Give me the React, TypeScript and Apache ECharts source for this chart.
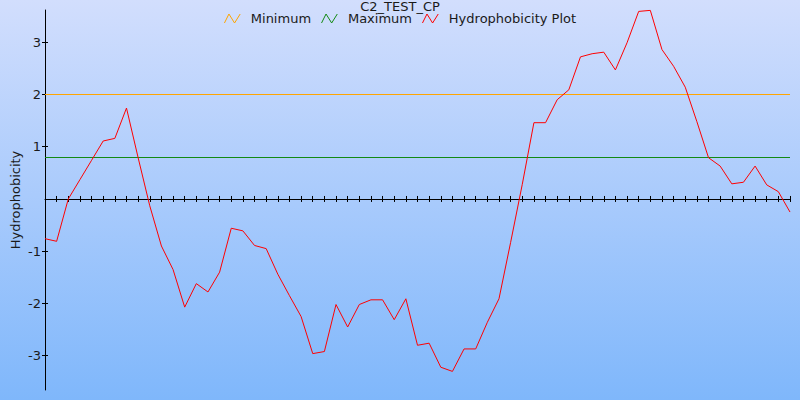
import React, { useEffect, useRef } from 'react';
import * as echarts from 'echarts';

// Residue window positions (x categories)
const positions = [
  1, 2, 3, 4, 5, 6, 7, 8, 9, 10, 11, 12, 13, 14, 15, 16, 17, 18, 19, 20,
  21, 22, 23, 24, 25, 26, 27, 28, 29, 30, 31, 32, 33, 34, 35, 36, 37, 38, 39, 40,
  41, 42, 43, 44, 45, 46, 47, 48, 49, 50, 51, 52, 53, 54, 55, 56, 57, 58, 59, 60,
  61, 62, 63, 64, 65,
];

// Hydrophobicity values
const hydrophobicity = [
  -0.76, -0.81, 0.0, 0.37, 0.74, 1.11, 1.16, 1.74, 0.79, -0.13,
  -0.9, -1.35, -2.07, -1.62, -1.78, -1.4, -0.56, -0.61, -0.89, -0.95,
  -1.44, -1.85, -2.25, -2.96, -2.92, -2.02, -2.45, -2.02, -1.93, -1.93,
  -2.31, -1.91, -2.8, -2.76, -3.22, -3.3, -2.87, -2.87, -2.36, -1.91,
  -0.83, 0.28, 1.46, 1.46, 1.9, 2.09, 2.72, 2.78, 2.81, 2.47,
  2.99, 3.59, 3.61, 2.86, 2.54, 2.14, 1.48, 0.79, 0.63, 0.29,
  0.32, 0.63, 0.27, 0.14, -0.25,
];

const minimumLevel = 2.0;
const maximumLevel = 0.8;

const yTickValues = [-3, -2, -1, 1, 2, 3];
const yMin = -3.656;
const yMax = 3.617;

const COLORS = {
  minimum: '#ffa500',
  maximum: '#138a13',
  plot: '#ff0000',
  text: '#1a1a1a',
  axis: '#000000',
};

const legendIcon = 'path://M0,9L4,1L9,9L14,1';

export default function App() {
  const ref = useRef<HTMLDivElement>(null);

  useEffect(() => {
    if (!ref.current) return;
    const chart = echarts.init(ref.current, null, { renderer: 'svg' });
    const font = 'DejaVu Sans';
    const fs = 13;
    chart.setOption({
      animation: false,
      backgroundColor: new echarts.graphic.LinearGradient(0, 0, 0, 1, [
        { offset: 0, color: '#d2defd' },
        { offset: 1, color: '#7fb7fb' },
      ]),
      textStyle: { fontFamily: font },
      title: {
        text: 'C2_TEST_CP',
        left: 'center',
        top: -5,
        textStyle: { fontSize: fs, fontWeight: 'normal', color: COLORS.text, fontFamily: font },
      },
      legend: {
        top: 7,
        left: 'center',
        itemWidth: 17,
        itemHeight: 9,
        itemGap: 10,
        icon: legendIcon,
        textStyle: { fontSize: fs, color: COLORS.text, fontFamily: font, padding: [0, 0, 0, 5] },
        data: [
          { name: 'Minimum', itemStyle: { color: 'transparent', borderColor: COLORS.minimum, borderWidth: 1 } },
          { name: 'Maximum', itemStyle: { color: 'transparent', borderColor: COLORS.maximum, borderWidth: 1 } },
          { name: 'Hydrophobicity Plot', itemStyle: { color: 'transparent', borderColor: COLORS.plot, borderWidth: 1 } },
        ],
      },
      grid: { left: 45, right: 10, top: 10, bottom: 10, containLabel: false, outerBoundsMode: 'none' },
      xAxis: [
        {
          type: 'category',
          data: positions,
          boundaryGap: false,
          position: 'bottom',
          axisLine: { show: true, onZero: true, lineStyle: { color: COLORS.axis, width: 1 } },
          axisTick: { show: true, interval: 0, length: 3, inside: false, lineStyle: { color: COLORS.axis } },
          axisLabel: { show: false },
          splitLine: { show: false },
        },
        {
          type: 'category',
          data: positions,
          boundaryGap: false,
          position: 'top',
          axisLine: { show: false, onZero: true },
          axisTick: { show: true, interval: 0, length: 3, inside: false, lineStyle: { color: COLORS.axis } },
          axisLabel: { show: false },
          splitLine: { show: false },
        },
      ],
      yAxis: [
        {
          type: 'value',
          min: yMin,
          max: yMax,
          position: 'left',
          name: 'Hydrophobicity',
          nameLocation: 'middle',
          nameGap: 23,
          nameMoveOverlap: false,
          nameTextStyle: { fontSize: fs, color: COLORS.text, fontFamily: font },
          axisLine: { show: true, lineStyle: { color: COLORS.axis, width: 1 } },
          axisTick: { show: true, length: 3, inside: false, customValues: yTickValues, lineStyle: { color: COLORS.axis } },
          axisLabel: { customValues: yTickValues, fontSize: fs, color: COLORS.text, margin: 4, fontFamily: font },
          splitLine: { show: false },
        },
        {
          type: 'value',
          min: yMin,
          max: yMax,
          position: 'left',
          axisLine: { show: false },
          axisTick: { show: true, length: 3, inside: true, customValues: yTickValues, lineStyle: { color: COLORS.axis } },
          axisLabel: { show: false },
          splitLine: { show: false },
        },
      ],
      series: [
        {
          name: 'Minimum',
          type: 'line',
          data: [],
          color: COLORS.minimum,
          markLine: {
            silent: true,
            symbol: 'none',
            label: { show: false },
            lineStyle: { color: COLORS.minimum, width: 1, type: 'solid', opacity: 1 },
            data: [{ yAxis: minimumLevel }],
          },
        },
        {
          name: 'Maximum',
          type: 'line',
          data: [],
          color: COLORS.maximum,
          markLine: {
            silent: true,
            symbol: 'none',
            label: { show: false },
            lineStyle: { color: COLORS.maximum, width: 1, type: 'solid', opacity: 1 },
            data: [{ yAxis: maximumLevel }],
          },
        },
        {
          name: 'Hydrophobicity Plot',
          type: 'line',
          data: hydrophobicity,
          color: COLORS.plot,
          showSymbol: false,
          symbol: 'none',
          lineStyle: { width: 1, color: COLORS.plot },
          z: 5,
        },
      ],
    });
    return () => chart.dispose();
  }, []);

  return <div ref={ref} style={{ position: 'fixed', left: 0, top: 0, width: 800, height: 400 }} />;
}
